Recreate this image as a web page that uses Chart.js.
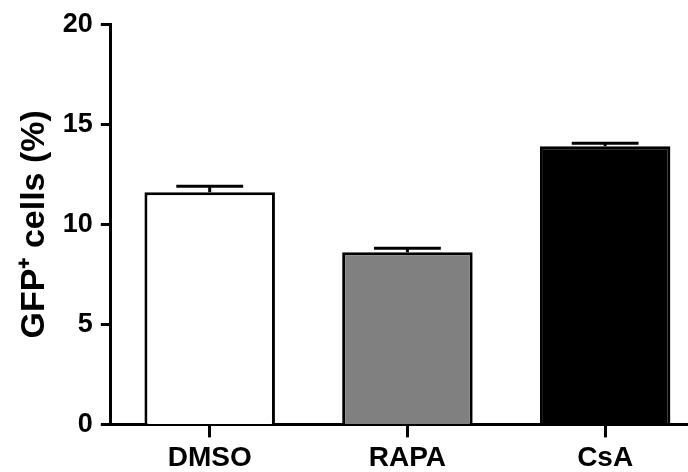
<!DOCTYPE html>
<html>
<head>
<meta charset="utf-8">
<script src="https://cdn.jsdelivr.net/npm/chart.js@4"></script>
<style>
  html, body { margin: 0; padding: 0; background: #fff; overflow: hidden; }
  #wrap { width: 704px; height: 472px; }
</style>
</head>
<body>
<div id="wrap"><canvas id="chart"></canvas></div>
<script>
// datos
const categories = ["DMSO", "RAPA", "CsA"];
const values = [11.6, 8.6, 13.9];
const errors = [0.3, 0.2, 0.15];
const fills = ["#ffffff", "#808080", "#000000"];
const yTicks = [0, 5, 10, 15, 20];

const FONT = "'Liberation Sans', Arial, sans-serif";

// barras de error (solo hacia arriba, como en el original)
const errorBars = {
  id: "errorBars",
  afterDatasetsDraw(chart) {
    const ctx = chart.ctx;
    const meta = chart.getDatasetMeta(0);
    const y = chart.scales.y;
    ctx.save();
    ctx.strokeStyle = "#000";
    ctx.lineWidth = 3;
    meta.data.forEach((bar, i) => {
      const top = y.getPixelForValue(values[i]);
      const hi = y.getPixelForValue(values[i] + errors[i]);
      const half = bar.width * 0.256;
      ctx.beginPath();
      ctx.moveTo(bar.x, top);
      ctx.lineTo(bar.x, hi);
      ctx.moveTo(bar.x - half, hi);
      ctx.lineTo(bar.x + half, hi);
      ctx.stroke();
    });
    ctx.restore();
  },
};

new Chart(document.getElementById("chart"), {
  type: "bar",
  data: {
    labels: categories,
    datasets: [
      {
        data: values,
        backgroundColor: fills,
        borderColor: "#000",
        borderWidth: 3,
        barPercentage: 0.66,
        categoryPercentage: 1,
      },
    ],
  },
  options: {
    responsive: true,
    maintainAspectRatio: false,
    animation: false,
    layout: { padding: { top: 16, left: 14, right: 0, bottom: -7 } },
    plugins: { legend: { display: false }, tooltip: { enabled: false } },
    scales: {
      x: {
        grid: {
          display: true,
          drawOnChartArea: false,
          offset: false,
          tickLength: 13,
          tickWidth: 3,
          tickColor: "#000",
        },
        border: { color: "#000", width: 3 },
        ticks: {
          color: "#000",
          padding: 4,
          font: { family: FONT, size: 28, weight: "bold" },
        },
      },
      y: {
        min: 0,
        max: 20,
        afterBuildTicks(axis) {
          axis.ticks = yTicks.map((v) => ({ value: v }));
        },
        grid: {
          display: true,
          drawOnChartArea: false,
          tickLength: 10,
          tickWidth: 3,
          tickColor: "#000",
        },
        border: { color: "#000", width: 3 },
        ticks: {
          color: "#000",
          padding: 8,
          font: { family: FONT, size: 27, weight: "bold" },
        },
        title: {
          display: true,
          text: "GFP\u207A cells (%)",
          color: "#000",
          padding: { top: 0, bottom: 0 },
          font: { family: FONT, size: 34, weight: "bold" },
        },
      },
    },
  },
  plugins: [errorBars],
});
</script>
</body>
</html>
